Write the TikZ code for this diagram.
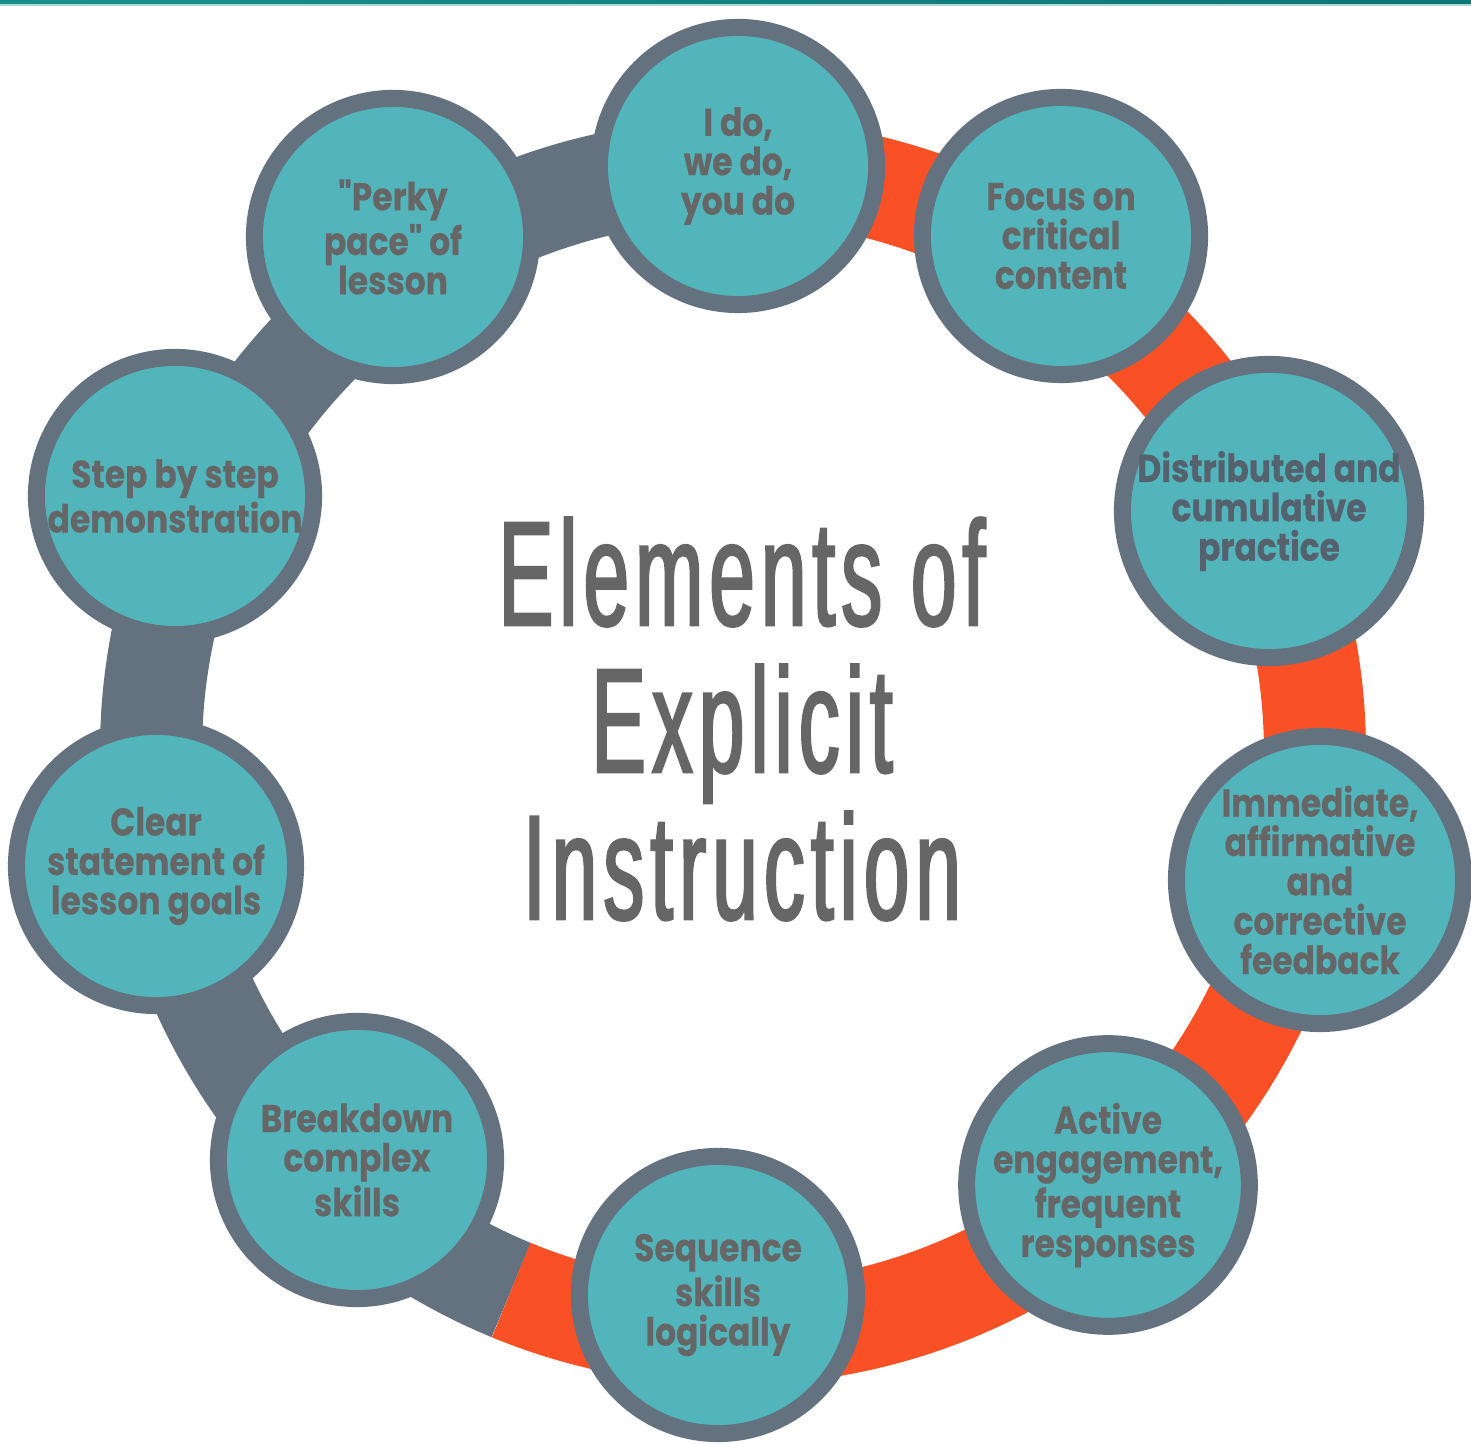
\documentclass[tikz,border=0pt]{standalone}
\usepackage{fontspec}
\newfontfamily\elemfont[FakeStretch=0.85, FakeBold=0.4]{Poppins}
\newfontfamily\titlefont[FakeStretch=0.55, FakeBold=1.6, LetterSpace=4]{Liberation Sans}
\definecolor{elemteal}{HTML}{53B5BC}
\definecolor{ringgray}{HTML}{647280}
\definecolor{ringorange}{HTML}{F95125}
\definecolor{elemtext}{HTML}{666666}
\definecolor{bartealA}{HTML}{17908F}
\definecolor{bartealB}{HTML}{0E7674}

\begin{document}
\begin{tikzpicture}[x=0.01cm, y=0.01cm,
	elem/.style={circle, draw=ringgray, fill=elemteal, line width=0.17cm, minimum size=2.77cm, inner sep=0pt, align=center, text=elemtext, font=\elemfont\bfseries\fontsize{11}{11.2}\selectfont},
	band/.style={line width=1.02cm},
	title/.style={align=center, text=elemtext, font=\titlefont\fontsize{42.4}{41.8}\selectfont}]
	\useasboundingbox (0,0) rectangle (1471,1443);
	\fill[white] (0,0) rectangle (1471,1443);
	\shade[left color=bartealA, right color=bartealB] (0,1438.5) rectangle (1471,1443);
	\fill[bartealA!35] (0,1437) rectangle (1471,1438.5);
	\coordinate (hub) at (733,691);
	\draw[band, ringgray] (hub) ++(90:582) arc[start angle=90, end angle=247.6, radius=582];
	\draw[band, ringorange] (hub) ++(247.6:582) arc[start angle=247.6, end angle=450, radius=582];
	\node[elem] (ido) at (738,1277) {I do,\\we do,\\you do};
	\node[elem] (focus) at (1061,1207) {Focus on\\critical\\content};
	\node[elem, minimum size=2.93cm, text=ringgray!85!black] (distrib) at (1269,932) {Distributed and\\cumulative\\practice};
	\node[elem, minimum size=2.87cm] (immed) at (1320,563) {Immediate,\\affirmative\\and\\corrective\\feedback};
	\node[elem] (active) at (1108,258) {Active\\engagement,\\frequent\\responses};
	\node[elem] (seq) at (718,148) {Sequence\\skills\\logically};
	\node[elem] (brk) at (357,283) {Breakdown\\complex\\skills};
	\node[elem, minimum size=2.79cm] (clear) at (156,577) {Clear\\statement of\\lesson goals};
	\node[elem] (step) at (175,947) {Step by step\\demonstration};
	\node[elem] (perky) at (393,1206) {"Perky\\pace" of\\lesson};
	\node[title] (title) at (742,724) {Elements of\\Explicit\\Instruction};
\end{tikzpicture}
\end{document}
